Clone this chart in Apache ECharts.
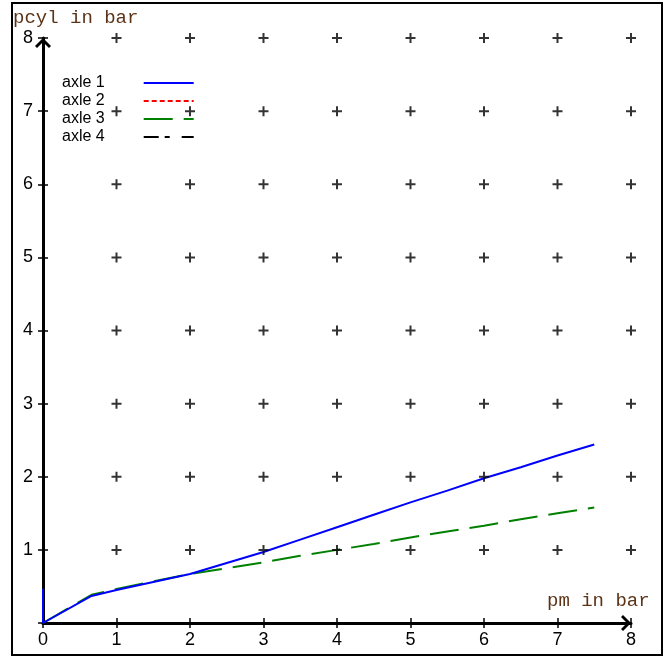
<!DOCTYPE html>
<html>
<head>
<meta charset="utf-8">
<title>pcyl / pm</title>
<script src="https://cdn.jsdelivr.net/npm/echarts@6/dist/echarts.min.js"></script>
<style>
  html, body { margin: 0; padding: 0; background: #fff; }
  #chart { width: 670px; height: 657px; }
</style>
</head>
<body>
<div id="chart"></div>
<script>
// measured points, pm in bar -> pcyl in bar
var pmAxle1 = [0, 0, 0.66, 1, 1.5, 2, 2.5, 3, 3.5, 4, 4.5, 5, 5.5, 6, 6.5, 7, 7.5];
var pcylAxle1 = [0.47, 0, 0.37, 0.45, 0.56, 0.67, 0.82, 0.97, 1.14, 1.31, 1.48, 1.65, 1.81, 1.98, 2.13, 2.29, 2.44];
var pmAxle2 = [];
var pcylAxle2 = [];
var pmAxle3 = [0, 0.66, 1, 1.5, 2, 2.5, 3, 3.5, 4, 4.5, 5, 5.5, 6, 6.5, 7, 7.5];
var pcylAxle3 = [0, 0.385, 0.465, 0.57, 0.67, 0.75, 0.83, 0.92, 1.0, 1.08, 1.17, 1.25, 1.33, 1.42, 1.5, 1.58];
var pmAxle4 = [];
var pcylAxle4 = [];

var seriesNames = ["axle 1", "axle 2", "axle 3", "axle 4"];
var xTicks = [0, 1, 2, 3, 4, 5, 6, 7, 8];
var yTicks = [0, 1, 2, 3, 4, 5, 6, 7, 8];

var font = "Liberation Sans";
var chevron = "path://M8,0L16,8L14,10L8,4L2,10L0,8Z"; // arrow head at axis end
var plus = "path://M4,0H6V10H4Z M0,4H10V6H0Z";

function pairs(xs, ys) {
  var out = [];
  for (var i = 0; i < xs.length; i++) out.push([xs[i], ys[i]]);
  return out;
}

// "+" marks on every grid crossing away from the axes
var gridMarks = [];
xTicks.forEach(function (x) {
  yTicks.forEach(function (y) {
    if (x > 0 && y > 0) gridMarks.push([x, y]);
  });
});

var myChart = echarts.init(document.getElementById("chart"));

var mainX = {
  type: "value",
  min: xTicks[0],
  max: xTicks[xTicks.length - 1],
  interval: 1,
  splitLine: { show: false },
  axisLine: {
    lineStyle: { color: "#000", width: 3 },
    symbol: ["none", chevron],
    symbolSize: [16, 10],
    symbolOffset: [0, -5],
  },
  axisTick: { length: 5, lineStyle: { color: "#000", width: 1.5 } },
  axisLabel: { color: "#000", fontFamily: font, fontSize: 18, margin: 8 },
};
var mainY = {
  type: "value",
  min: yTicks[0],
  max: yTicks[yTicks.length - 1],
  interval: 1,
  splitLine: { show: false },
  axisLine: {
    lineStyle: { color: "#000", width: 3 },
    symbol: ["none", chevron],
    symbolSize: [16, 10],
    symbolOffset: [0, -5],
  },
  axisTick: { length: 5, lineStyle: { color: "#000", width: 1.5 } },
  axisLabel: {
    color: "#000",
    fontFamily: font,
    fontSize: 18,
    margin: 10,
    formatter: function (v) {
      return v === 0 ? "" : v;
    },
  },
};
// second pair of axes only for the inner half of the crossing ticks
var innerX = {
  type: "value",
  position: "bottom",
  min: xTicks[0],
  max: xTicks[xTicks.length - 1],
  interval: 1,
  splitLine: { show: false },
  axisLine: { show: false },
  axisLabel: { show: false },
  axisTick: { inside: true, length: 5, lineStyle: { color: "#000", width: 1.5 } },
};
var innerY = {
  type: "value",
  position: "left",
  min: yTicks[0],
  max: yTicks[yTicks.length - 1],
  interval: 1,
  splitLine: { show: false },
  axisLine: { show: false },
  axisLabel: { show: false },
  axisTick: { inside: true, length: 5, lineStyle: { color: "#000", width: 1.5 } },
};

var option = {
  animation: false,
  grid: { left: 43, right: 39, top: 38, bottom: 34 },
  xAxis: [mainX, innerX],
  yAxis: [mainY, innerY],
  legend: {
    orient: "vertical",
    left: 57,
    top: 69,
    align: "right",
    selectedMode: false,
    itemWidth: 50,
    itemHeight: 14,
    itemGap: 0,
    itemStyle: { opacity: 0 }, // line only, no symbol in the key
    textStyle: {
      color: "#000",
      fontFamily: font,
      fontSize: 16,
      lineHeight: 18,
      padding: [0, 34, 0, 0],
    },
    data: seriesNames,
  },
  graphic: [
    {
      type: "rect",
      shape: { x: 12, y: 3, width: 650, height: 652 },
      style: { fill: "none", stroke: "#000", lineWidth: 2 },
      silent: true,
    },
    {
      type: "text",
      x: 13,
      y: 18,
      style: {
        text: "pcyl in bar",
        fill: "#5c3317",
        font: "19px 'Liberation Mono'",
        verticalAlign: "middle",
      },
    },
    {
      type: "text",
      x: 547,
      y: 601,
      style: {
        text: "pm in bar",
        fill: "#5c3317",
        font: "19px 'Liberation Mono'",
        verticalAlign: "middle",
      },
    },
  ],
  series: [
    {
      name: seriesNames[0],
      type: "line",
      symbol: "none",
      z: 4,
      lineStyle: { color: "#0000ff", width: 2 },
      itemStyle: { color: "#0000ff" },
      data: pairs(pmAxle1, pcylAxle1),
    },
    {
      name: seriesNames[1],
      type: "line",
      symbol: "none",
      z: 3,
      lineStyle: { color: "#ff0000", width: 2, type: [5, 3] },
      itemStyle: { color: "#ff0000" },
      data: pairs(pmAxle2, pcylAxle2),
    },
    {
      name: seriesNames[2],
      type: "line",
      symbol: "none",
      z: 2,
      lineStyle: { color: "#008000", width: 2, type: [29, 11] },
      itemStyle: { color: "#008000" },
      data: pairs(pmAxle3, pcylAxle3),
    },
    {
      name: seriesNames[3],
      type: "line",
      symbol: "none",
      z: 2,
      lineStyle: { color: "#000", width: 2, type: [15, 6, 5, 12] },
      itemStyle: { color: "#000" },
      data: pairs(pmAxle4, pcylAxle4),
    },
    {
      name: "grid",
      type: "scatter",
      symbol: plus,
      symbolSize: 10,
      z: 5,
      silent: true,
      itemStyle: { color: "#000" },
      data: gridMarks,
    },
  ],
};

myChart.setOption(option);
</script>
</body>
</html>
